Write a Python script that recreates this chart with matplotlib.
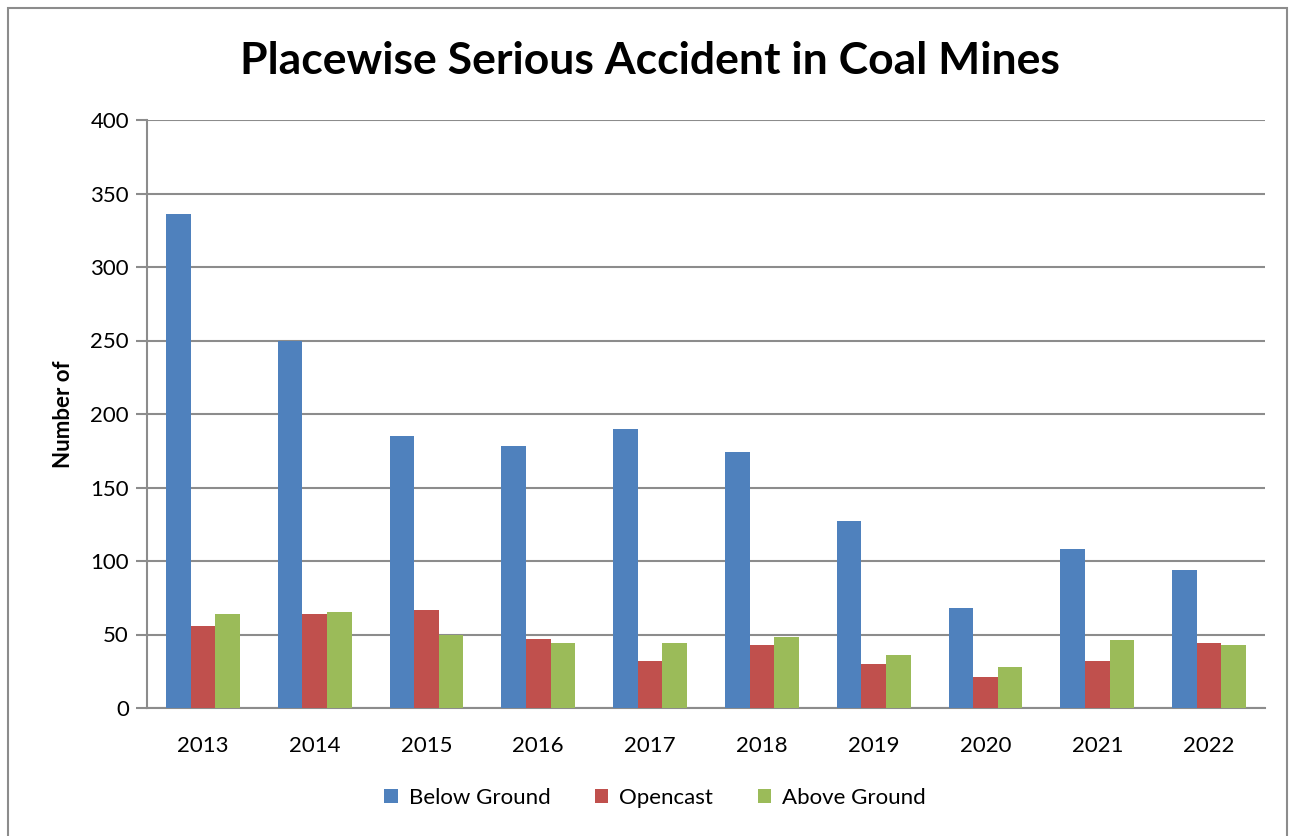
import matplotlib
matplotlib.use("Agg")
import matplotlib.pyplot as plt
import numpy as np
from matplotlib.patches import Rectangle

years = ["2013", "2014", "2015", "2016", "2017", "2018", "2019", "2020", "2021", "2022"]
below_ground = [336, 250, 185, 178, 190, 174, 127, 68, 108, 94]
opencast = [56, 64, 67, 47, 32, 43, 30, 21, 32, 44]
above_ground = [64, 65, 50, 44, 44, 48, 36, 28, 46, 43]
series_names = ["Below Ground", "Opencast", "Above Ground"]
colors = ["#4F81BD", "#C0504D", "#9BBB59"]

plt.rcParams['font.family'] = ['Lato', 'DejaVu Sans']

W, H = 1295, 836
fig = plt.figure(figsize=(W / 100, H / 100), dpi=100)
ax = fig.add_axes([147 / W, 1 - 708 / H, (1265 - 147) / W, (708 - 120) / H])

x = np.arange(len(years))
bw = 0.22
for i, (vals, name, c) in enumerate(zip([below_ground, opencast, above_ground], series_names, colors)):
    ax.bar(x + (i - 1) * bw, vals, width=bw, color=c, label=name, zorder=3)

ax.set_xlim(-0.5, len(years) - 0.5)
ax.set_ylim(0, 400)
ax.set_yticks(range(0, 401, 50))
ax.set_xticks(x)
ax.set_xticklabels(years)
ax.grid(axis='y', color='#8c8c8c', linewidth=1.5, zorder=0)
for s in ['top', 'right']:
    ax.spines[s].set_visible(False)
ax.spines['left'].set_color('#8c8c8c')
ax.spines['left'].set_linewidth(1.5)
ax.spines['bottom'].set_color('#8c8c8c')
ax.spines['bottom'].set_linewidth(1.5)
ax.tick_params(axis='y', length=8, width=1.5, color='#8c8c8c', labelsize=16, pad=5)
ax.tick_params(axis='x', length=0, labelsize=16, pad=20)

ax.set_ylabel("Number of", fontsize=16, fontweight='bold', labelpad=12)

fig.text(650 / W, 1 - 61 / H, "Placewise Serious Accident in Coal Mines",
         ha='center', va='center', fontsize=32, fontweight='bold')

leg = fig.legend(loc='center', bbox_to_anchor=(655 / W, 1 - 798 / H), ncol=3,
                 frameon=False, fontsize=16, handlelength=0.6, handleheight=0.6,
                 columnspacing=2.0, handletextpad=0.5)

fig.patches.append(Rectangle((8 / W, -0.05), (1287 - 8) / W, 1 - 8 / H + 0.05,
                             transform=fig.transFigure, fill=False,
                             edgecolor='#8c8c8c', linewidth=1.5))

fig.savefig("out.png", dpi=100)
